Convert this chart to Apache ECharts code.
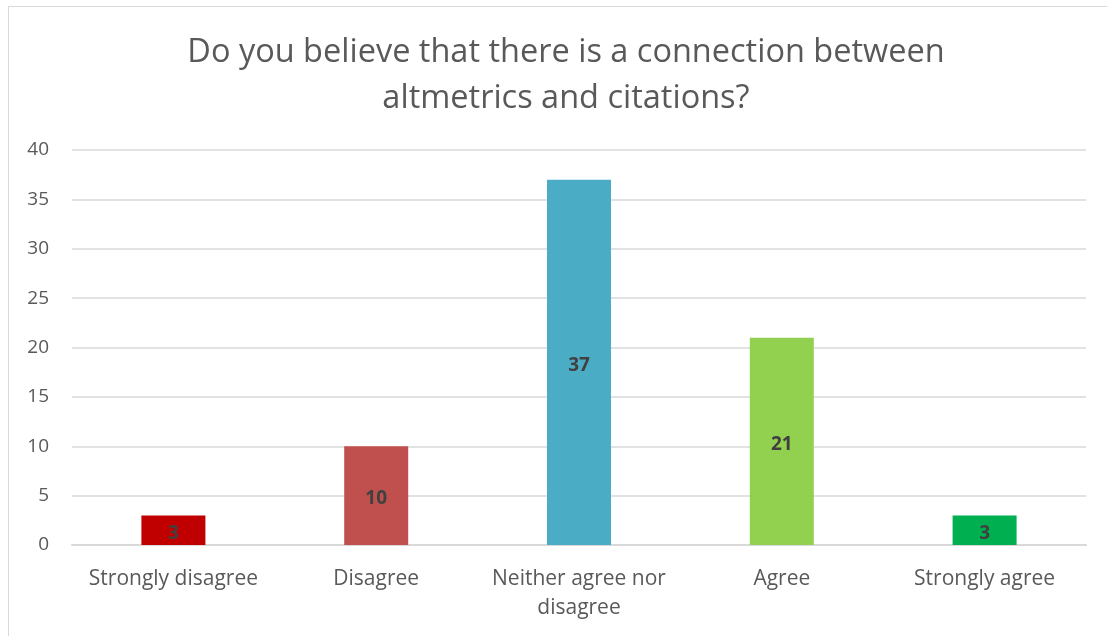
<!DOCTYPE html>
<html>
<head>
<meta charset="utf-8">
<script src="https://cdn.jsdelivr.net/npm/echarts@6/dist/echarts.min.js"></script>
<style>
html,body{margin:0;padding:0;background:#fff;}
#frame{position:absolute;left:8px;top:6px;width:1120px;height:650px;border:1px solid #d9d9d9;box-sizing:border-box;}
#chart{position:absolute;left:0;top:0;width:1107px;height:636px;}
</style>
</head>
<body>
<div id="frame"></div>
<div id="chart"></div>
<script>
const titleText = "Do you believe that there is a connection between\naltmetrics and citations?";
const categories = ["Strongly disagree", "Disagree", "Neither agree nor\ndisagree", "Agree", "Strongly agree"];
const values = [3, 10, 37, 21, 3];
const barColors = ["#C00000", "#C0504D", "#4BACC6", "#92D050", "#00B050"];
const yTicks = [0, 5, 10, 15, 20, 25, 30, 35, 40];

const font = "'Open Sans', 'Liberation Sans', sans-serif";
const chart = echarts.init(document.getElementById('chart'), null, {renderer: 'canvas'});
chart.setOption({
  backgroundColor: 'transparent',
  animation: false,
  title: {
    text: titleText,
    left: 561,
    top: 25,
    textAlign: 'center',
    textStyle: {fontFamily: font, fontSize: 32.5, fontWeight: 'normal', color: '#595959', lineHeight: 46}
  },
  grid: {left: 72, right: 21, top: 150, bottom: 91, containLabel: false},
  xAxis: {
    type: 'category',
    data: categories,
    axisLine: {show: true, lineStyle: {color: '#d9d9d9', width: 2}},
    axisTick: {show: false},
    axisLabel: {fontFamily: font, fontSize: 21, color: '#595959', margin: 20, lineHeight: 29, interval: 0}
  },
  yAxis: {
    type: 'value',
    min: yTicks[0],
    max: yTicks[yTicks.length - 1],
    interval: 5,
    axisLine: {show: false},
    axisTick: {show: false},
    splitLine: {lineStyle: {color: '#d9d9d9', width: 1.5}},
    axisLabel: {fontFamily: font, fontSize: 19, color: '#595959', margin: 23}
  },
  series: [{
    type: 'bar',
    barWidth: 64,
    data: values.map((v, i) => ({value: v, itemStyle: {color: barColors[i]}})),
    label: {
      show: true,
      position: 'inside',
      offset: [0, 3],
      fontFamily: font,
      fontSize: 19,
      fontWeight: 'bold',
      color: '#404040'
    }
  }]
});
</script>
</body>
</html>
